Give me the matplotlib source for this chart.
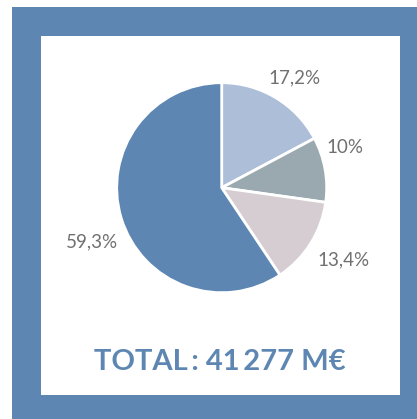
import matplotlib
matplotlib.use("Agg")
import matplotlib.pyplot as plt
from matplotlib.patches import Rectangle
import numpy as np

# Data
categories = ["A", "B", "C", "D"]
values = [17.2, 10.0, 13.4, 59.3]
labels = ["17,2%", "10%", "13,4%", "59,3%"]
colors = ["#adbed8", "#9aa9b0", "#d5cdd1", "#5d87b2"]
total_label = "TOTAL\u2009: 41\u2009277 M€"

W, H = 417, 419
fig = plt.figure(figsize=(W / 100, H / 100), dpi=100)
fig.patch.set_facecolor("white")

# frame
fig.patches.append(Rectangle((12 / W, 0), (W - 12) / W, 412 / H, transform=fig.transFigure,
                             facecolor="#5d87b2", edgecolor="none", zorder=0))
fig.patches.append(Rectangle((41 / W, 24 / H), 359 / W, 359 / H, transform=fig.transFigure,
                             facecolor="white", edgecolor="none", zorder=0))

# pie axes
cx, cy, R = 221.7, 231.3, 105.0
half = 150.0
ax = fig.add_axes([(cx - half) / W, (cy - half) / H, 2 * half / W, 2 * half / H])
ax.set_zorder(2)
wedges, _ = ax.pie(values, colors=colors, startangle=90, counterclock=False, radius=1,
                   wedgeprops=dict(edgecolor="white", linewidth=2))
lim = half / R
ax.set_xlim(-lim, lim)
ax.set_ylim(-lim, lim)
ax.set_aspect("auto")
ax.axis("off")

# label placement (angle in degrees, distance in radius units, alignment)
label_pos = [(67, 1.14, "left"), (21, 1.07, "left"), (-37, 1.14, "left"), (207.5, 1.11, "right")]
for lab, (ang, d, ha) in zip(labels, label_pos):
    a = np.deg2rad(ang)
    ax.text(d * np.cos(a), d * np.sin(a), lab, ha=ha, va="center", fontsize=13.5,
            color="#707070", family="Lato")

fig.text(220 / W, 57 / H, total_label, ha="center", va="center", fontsize=21,
         fontweight="bold", color="#5d87b2", family=["Lato", "DejaVu Sans"], zorder=3)

fig.savefig("out.png", dpi=100)
